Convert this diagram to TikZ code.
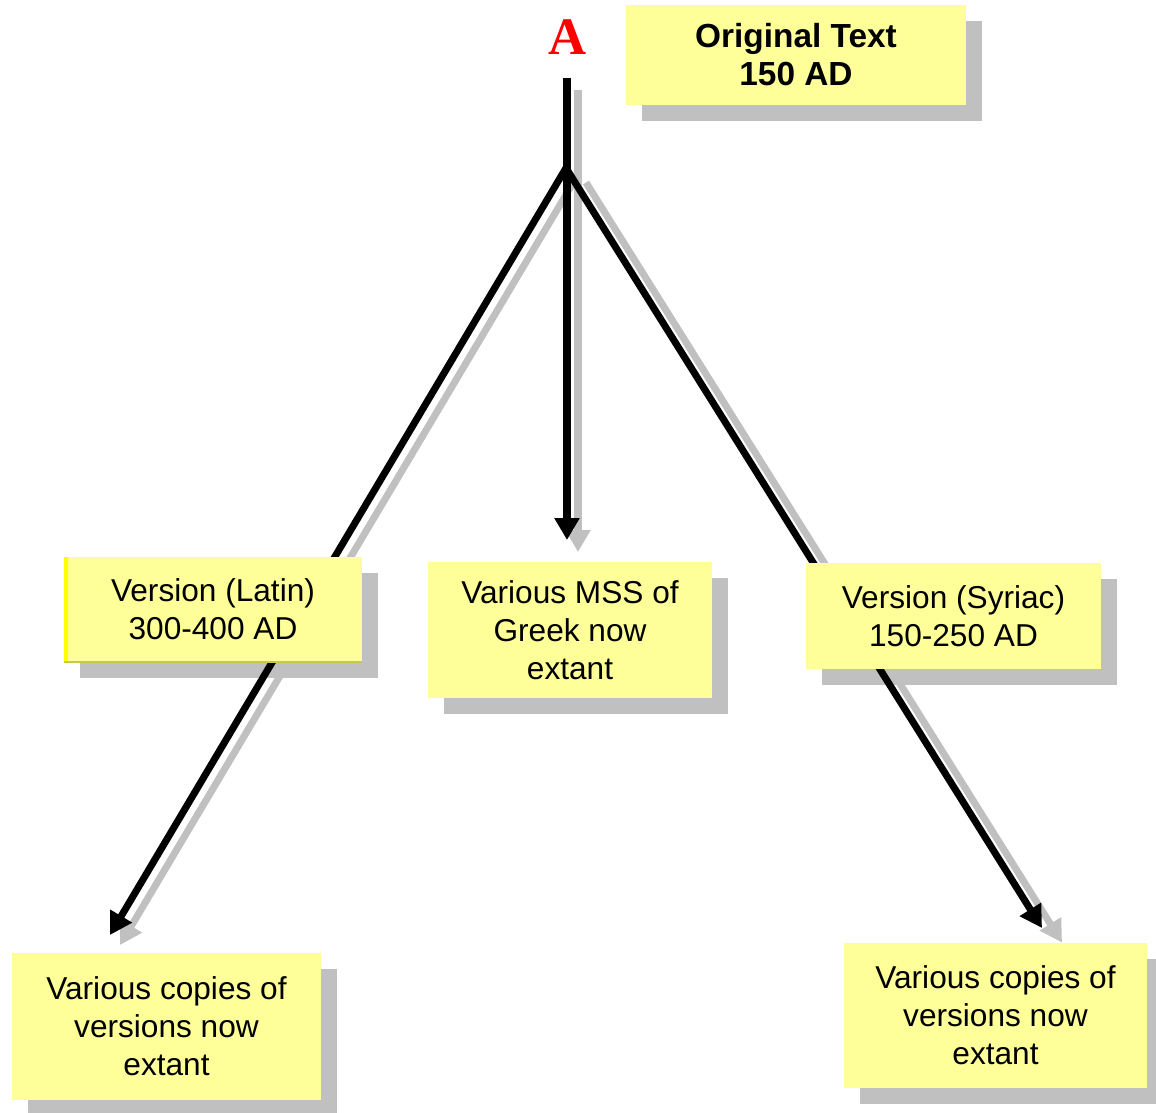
\documentclass[tikz,border=0pt]{standalone}
\usepackage{fontspec}
\setmainfont{Liberation Sans}
\newfontfamily\letterfont{Liberation Serif}
\usetikzlibrary{positioning,arrows.meta}
\definecolor{notepad}{RGB}{255,255,153}
\definecolor{shadowgray}{RGB}{192,192,192}
\definecolor{edgeyellow}{RGB}{255,255,0}
\definecolor{edgeolive}{RGB}{200,200,80}
\pgfdeclarelayer{shadows}
\pgfdeclarelayer{lines}
\pgfsetlayers{shadows,lines,main}

\tikzset{
  note/.style={fill=notepad, inner sep=0pt, align=center, font=\fontsize{18}{21.6}\selectfont},
  link/.style={line width=4pt, -{Triangle[length=0.44cm,width=0.48cm]}},
}

\begin{document}
\begin{tikzpicture}
\useasboundingbox (0,0) rectangle (23.12,-22.26);

    % Nodes
    \node (letter) [text=red, inner sep=0pt, font=\letterfont\bfseries\fontsize{30}{30}\selectfont] at (11.36,-0.75) {A};
    \node (orig) [note, minimum width=6.8cm, minimum height=2.0cm, font=\bfseries\fontsize{19}{21.6}\selectfont] at (15.92,-1.1) {Original Text\\150 AD};
    \node (latin) [note, minimum width=5.96cm, minimum height=2.1cm] at (4.26,-12.19) {Version (Latin)\\300-400 AD};
    \node (greek) [note, minimum width=5.68cm, minimum height=2.72cm] at (11.4,-12.6) {Various MSS of\\Greek now\\extant};
    \node (syriac) [note, minimum width=5.9cm, minimum height=2.12cm] at (19.07,-12.32) {Version (Syriac)\\150-250 AD};
    \node (copiesL) [note, minimum width=6.18cm, minimum height=2.94cm] at (3.33,-20.53) {Various copies of\\versions now\\extant};
    \node (copiesR) [note, minimum width=6.06cm, minimum height=2.9cm] at (19.91,-20.31) {Various copies of\\versions now\\extant};

    % edges of the latin note
    \draw[edgeyellow, line width=2.2pt] ([xshift=0.04cm]latin.north west) -- ([xshift=0.04cm]latin.south west);
    \draw[edgeolive, line width=1pt] (latin.south west) -- (latin.south east);

    % Points of the tree
    \coordinate (top) at (11.34,-1.56);
    \coordinate (fork) at (11.32,-3.36);
    \coordinate (greektip) at (11.34,-10.8);
    \coordinate (lefttip) at (2.2,-18.7);
    \coordinate (righttip) at (20.84,-18.56);

    % Shadows of the notes
    \begin{pgfonlayer}{shadows}
    \foreach \n in {orig,latin,greek,syriac,copiesL,copiesR}
        \fill[shadowgray] ([shift={(0.32,-0.32)}]\n.south west) rectangle ([shift={(0.32,-0.32)}]\n.north east);
    \end{pgfonlayer}

    % Arrows with their shadows
    \begin{pgfonlayer}{lines}
    \foreach \from/\to/\sx/\sy in {top/greektip/0.22cm/-0.24cm, fork/lefttip/0.2cm/-0.2cm, fork/righttip/0.4cm/-0.29cm}
        \draw[link, draw=shadowgray, fill=shadowgray, transform canvas={xshift=\sx, yshift=\sy}] (\from) -- (\to);
    \foreach \from/\to in {top/greektip, fork/lefttip, fork/righttip}
        \draw[link] (\from) -- (\to);
    \end{pgfonlayer}

\end{tikzpicture}
\end{document}
